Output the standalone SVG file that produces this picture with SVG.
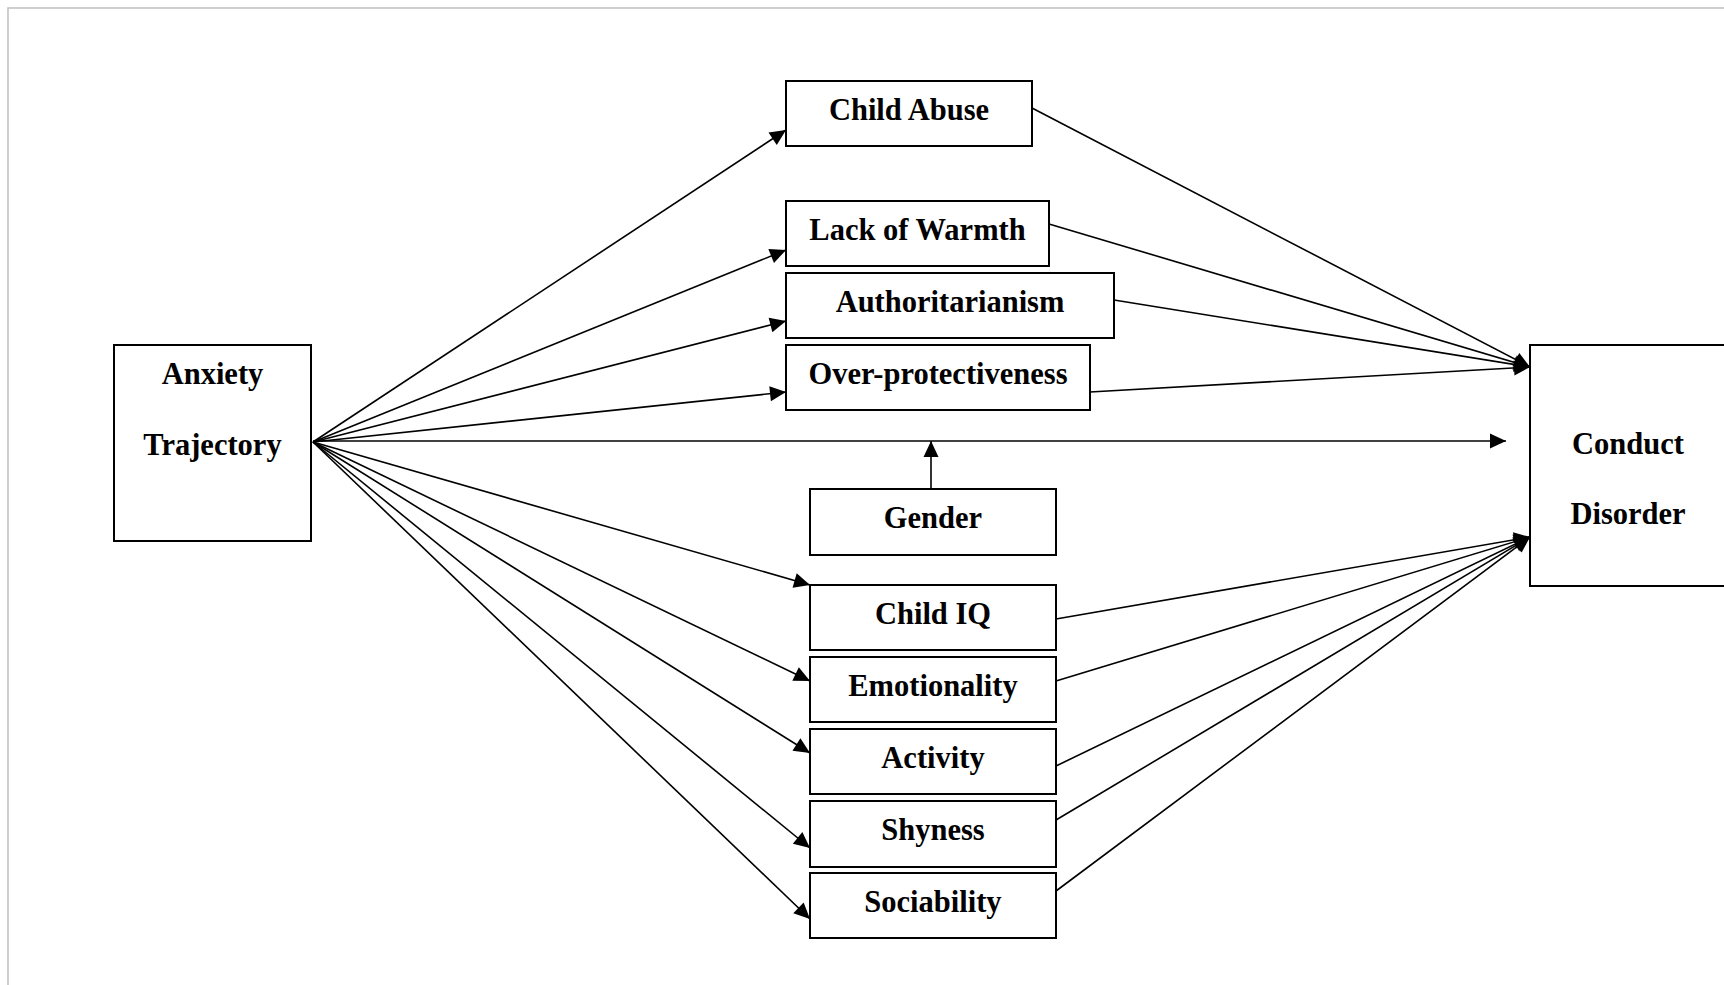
<svg xmlns="http://www.w3.org/2000/svg" width="1724" height="985" viewBox="0 0 1724 985">
<style>
.box{fill:#fff;stroke:#000;stroke-width:2}
.lbl{font-family:"Liberation Serif","Times New Roman",serif;font-weight:bold;font-size:30.5px;fill:#000;text-anchor:middle}
.ln{stroke:#000;stroke-width:1.6;fill:none}
.arr{marker-end:url(#ah)}
</style>
<defs>
<marker id="ah" markerUnits="userSpaceOnUse" markerWidth="18" markerHeight="16" viewBox="0 -8 17 16" refX="16" refY="0" orient="auto">
<path d="M0,-7.5 L16,0 L0,7.5 z" fill="#000"/>
</marker>
</defs>
<rect x="0" y="0" width="1724" height="985" fill="#fff"/>
<rect x="8" y="8" width="1740" height="1000" fill="none" stroke="#c3c3c3" stroke-width="1.6"/>
<g id="connectors">
<line class="ln arr" x1="313" y1="442" x2="786" y2="130"/>
<line class="ln arr" x1="313" y1="442" x2="786" y2="250"/>
<line class="ln arr" x1="313" y1="442" x2="786" y2="321"/>
<line class="ln arr" x1="313" y1="442" x2="786" y2="392"/>
<line class="ln arr" x1="313" y1="441" x2="1506" y2="441"/>
<line class="ln arr" x1="313" y1="442" x2="810" y2="585"/>
<line class="ln arr" x1="313" y1="442" x2="810" y2="681"/>
<line class="ln arr" x1="313" y1="442" x2="810" y2="753"/>
<line class="ln arr" x1="313" y1="442" x2="810" y2="848"/>
<line class="ln arr" x1="313" y1="442" x2="810" y2="919"/>
<line class="ln arr" x1="931" y1="489" x2="931" y2="441"/>
<line class="ln arr" x1="1032" y1="108" x2="1530" y2="367"/>
<line class="ln arr" x1="1049" y1="224" x2="1530" y2="367"/>
<line class="ln arr" x1="1114" y1="300" x2="1530" y2="367"/>
<line class="ln arr" x1="1090" y1="392" x2="1530" y2="367"/>
<line class="ln arr" x1="1056" y1="619" x2="1530" y2="537"/>
<line class="ln arr" x1="1056" y1="681" x2="1530" y2="537"/>
<line class="ln arr" x1="1056" y1="766" x2="1530" y2="537"/>
<line class="ln arr" x1="1056" y1="820" x2="1530" y2="537"/>
<line class="ln arr" x1="1056" y1="891" x2="1530" y2="537"/>
</g>
<g id="anxiety">
<rect class="box" x="114" y="345" width="197" height="196"/>
<text class="lbl" x="212.5" y="384">Anxiety</text>
<text class="lbl" x="212.5" y="455">Trajectory</text>
</g>
<g id="conduct">
<rect class="box" x="1530" y="345" width="196" height="241"/>
<text class="lbl" x="1628" y="454">Conduct</text>
<text class="lbl" x="1628" y="524">Disorder</text>
</g>
<g id="childabuse">
<rect class="box" x="786" y="81" width="246" height="65"/>
<text class="lbl" x="909" y="120">Child Abuse</text>
</g>
<g id="lackofwarmth">
<rect class="box" x="786" y="201" width="263" height="65"/>
<text class="lbl" x="917.5" y="240">Lack of Warmth</text>
</g>
<g id="authoritarianism">
<rect class="box" x="786" y="273" width="328" height="65"/>
<text class="lbl" x="950" y="312">Authoritarianism</text>
</g>
<g id="overprotectiveness">
<rect class="box" x="786" y="345" width="304" height="65"/>
<text class="lbl" x="938" y="384">Over-protectiveness</text>
</g>
<g id="gender">
<rect class="box" x="810" y="489" width="246" height="66"/>
<text class="lbl" x="933" y="528">Gender</text>
</g>
<g id="childiq">
<rect class="box" x="810" y="585" width="246" height="65"/>
<text class="lbl" x="933" y="624">Child IQ</text>
</g>
<g id="emotionality">
<rect class="box" x="810" y="657" width="246" height="65"/>
<text class="lbl" x="933" y="696">Emotionality</text>
</g>
<g id="activity">
<rect class="box" x="810" y="729" width="246" height="65"/>
<text class="lbl" x="933" y="768">Activity</text>
</g>
<g id="shyness">
<rect class="box" x="810" y="801" width="246" height="66"/>
<text class="lbl" x="933" y="840">Shyness</text>
</g>
<g id="sociability">
<rect class="box" x="810" y="873" width="246" height="65"/>
<text class="lbl" x="933" y="912">Sociability</text>
</g>
</svg>
